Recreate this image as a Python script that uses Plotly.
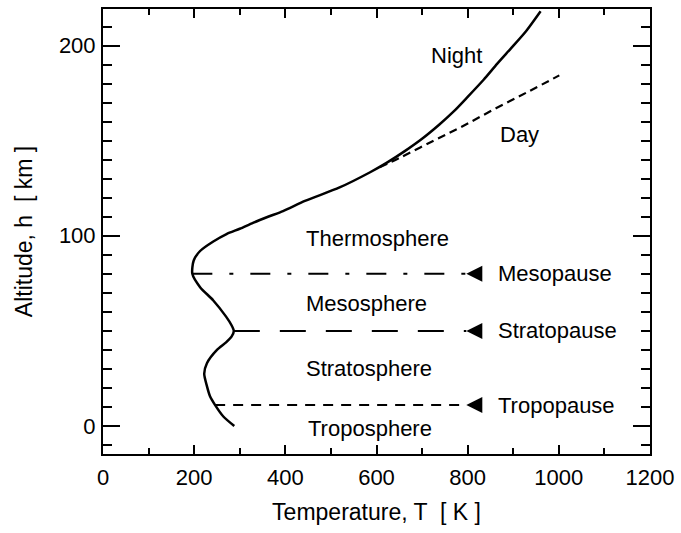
import plotly.graph_objects as go

# Night (full) temperature profile: temperature [K] vs altitude [km]
night_T = [288, 264, 246, 235, 228, 222, 228, 250, 270, 282, 287, 282, 270, 242, 213, 196, 199, 213, 242, 271, 300, 329, 362, 395, 443, 519, 586, 622, 662, 700, 738, 770, 800, 835, 865, 895, 928, 960]
night_h = [0, 5, 11, 15.5, 21, 27.5, 33, 40, 44, 47, 50, 53, 57.5, 66, 73, 80, 87, 92, 97, 100.9, 103.7, 106.8, 110, 113, 118.3, 125.4, 133.4, 138.3, 144.5, 151, 158.5, 165.5, 173, 182, 190.5, 198.5, 207.5, 218]

# Day branch of the thermosphere
day_T = [607, 651, 723, 789, 862, 935, 1001]
day_h = [136, 141, 149.7, 157.6, 167, 176, 184.3]

# Boundary levels (pauses)
pause_names = ["Mesopause", "Stratopause", "Tropopause"]
pause_h = [80, 50, 11]
pause_T_start = [196, 287, 246]
pause_T_end = [797, 797, 797]
pause_dash = ["20px,17px,4px,17px", "26px,20px", "10px,8px"]
arrow_T = 797
label_T = 863

# Layer labels
layer_names = ["Thermosphere", "Mesosphere", "Stratosphere", "Troposphere"]
layer_T = [603, 578, 584, 586]
layer_h = [98.5, 64.5, 30.4, -1.5]

FONT = "Liberation Sans, Arial, Helvetica, sans-serif"

fig = go.Figure()

fig.add_trace(go.Scatter(x=night_T, y=night_h, mode="lines",
                         line=dict(color="black", width=2.5, shape="spline", smoothing=0.7),
                         hoverinfo="skip"))
fig.add_trace(go.Scatter(x=day_T, y=day_h, mode="lines",
                         line=dict(color="black", width=2.2, dash="8px,5px", shape="spline"),
                         hoverinfo="skip"))

for name, h, t0, t1, d in zip(pause_names, pause_h, pause_T_start, pause_T_end, pause_dash):
    fig.add_trace(go.Scatter(x=[t0, t1], y=[h, h], mode="lines",
                             line=dict(color="black", width=2, dash=d), hoverinfo="skip"))
    fig.add_trace(go.Scatter(x=[arrow_T], y=[h], mode="markers",
                             marker=dict(symbol="arrow-left", size=16, color="black",
                                         line=dict(width=0)),
                             hoverinfo="skip"))
    fig.add_annotation(x=label_T, y=h, text=name, showarrow=False, xanchor="left",
                       yanchor="middle", font=dict(family=FONT, size=22, color="black"))

for name, t, h in zip(layer_names, layer_T, layer_h):
    fig.add_annotation(x=t, y=h, text=name, showarrow=False,
                       font=dict(family=FONT, size=22, color="black"))

fig.add_annotation(x=775, y=195, text="Night", showarrow=False,
                   font=dict(family=FONT, size=22, color="black"))
fig.add_annotation(x=913, y=153, text="Day", showarrow=False,
                   font=dict(family=FONT, size=22, color="black"))

fig.update_layout(
    width=681, height=533,
    margin=dict(l=103, r=30, t=7, b=79),
    paper_bgcolor="white", plot_bgcolor="white",
    showlegend=False,
    font=dict(family=FONT, size=22, color="black"),
)
fig.update_xaxes(
    range=[0, 1200], tickvals=[0, 200, 400, 600, 800, 1000, 1200],
    ticks="inside", ticklen=9, tickwidth=2, tickcolor="black",
    minor=dict(dtick=100, tick0=0, ticks="inside", ticklen=6, tickwidth=2, tickcolor="black", showgrid=False),
    showline=True, linewidth=2, linecolor="black", mirror="ticks",
    showgrid=False, zeroline=False,
    tickfont=dict(family=FONT, size=22),
    ticklabelstandoff=3,
    title=dict(text="Temperature, T  [ K ]", font=dict(family=FONT, size=23), standoff=14),
)
fig.update_yaxes(
    range=[-14.7, 219.2], tickvals=[0, 100, 200],
    ticks="inside", ticklen=17, tickwidth=2, tickcolor="black",
    minor=dict(dtick=10, tick0=0, ticks="inside", ticklen=9, tickwidth=2, tickcolor="black", showgrid=False),
    showline=True, linewidth=2, linecolor="black", mirror="ticks",
    showgrid=False, zeroline=False,
    tickfont=dict(family=FONT, size=22),
    ticklabelstandoff=1,
    title=dict(text="Altitude, h  [ km ]", font=dict(family=FONT, size=23), standoff=20),
)

fig.write_html("out.html", config={"displayModeBar": False},
               post_script="document.body.style.margin='0';")
